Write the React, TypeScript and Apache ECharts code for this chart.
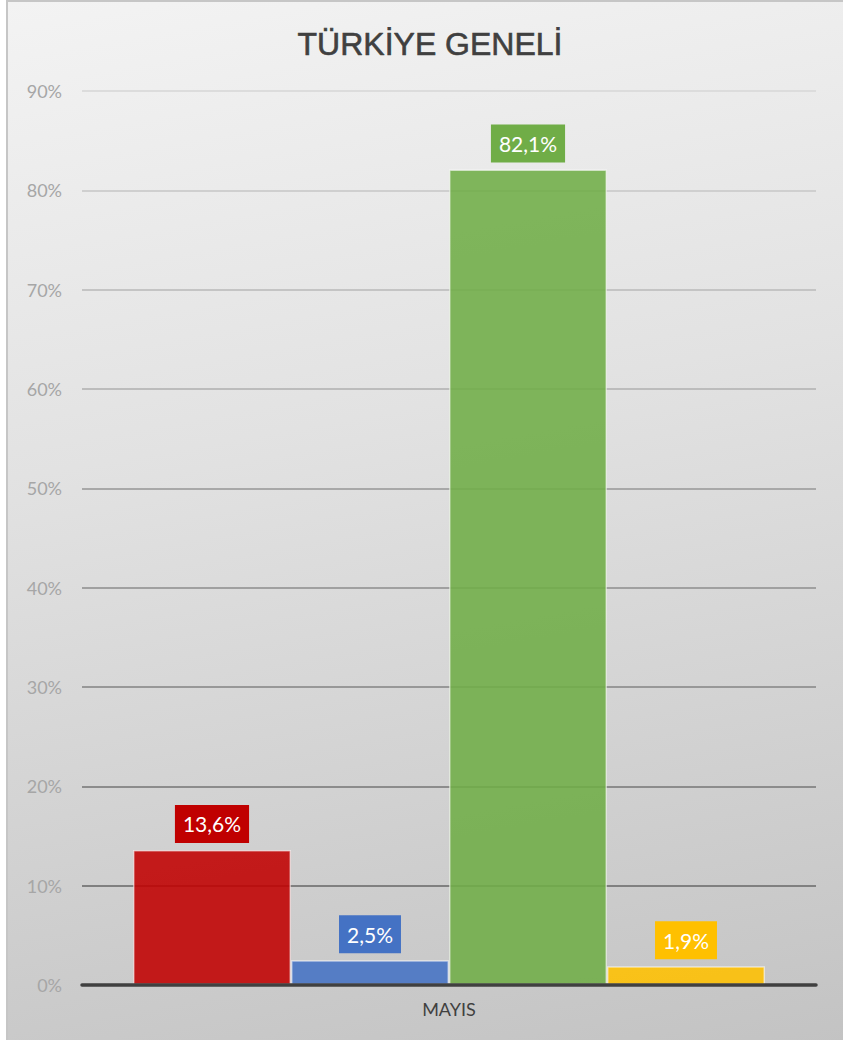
import React, { useEffect, useRef } from "react";
import * as echarts from "echarts";

const categories = ["MAYIS"];
const seriesNames = ["Seri 1", "Seri 2", "Seri 3", "Seri 4"];
const seriesValues = [13.6, 2.5, 82.1, 1.9];
const barColors = [
  "rgba(192,0,0,0.88)",
  "rgba(68,114,196,0.88)",
  "rgba(112,173,71,0.88)",
  "rgba(255,192,0,0.88)",
];
const labelColors = ["#c00000", "#4472c4", "#70ad47", "#ffc000"];
const gridColors = [
  "#808080",
  "#808080",
  "#8c8c8c",
  "#989898",
  "#a0a0a0",
  "#a8a8a8",
  "#bcbcbc",
  "#c4c4c4",
  "#cfcfcf",
  "#dcdcdc",
];

export default function App() {
  const ref = useRef<HTMLDivElement>(null);

  useEffect(() => {
    if (!ref.current) return;
    const chart = echarts.init(ref.current, undefined, { renderer: "svg" });
    const series = seriesValues.map((v, i) => ({
      name: seriesNames[i],
      type: "bar",
      data: [v],
      barWidth: 158,
      barGap: "0%",
      itemStyle: {
        color: barColors[i],
        borderColor: "rgba(255,255,255,0.55)",
        borderWidth: 1.5,
      },
      label: {
        show: true,
        position: "top",
        distance: 7,
        formatter: (p: any) => p.value.toFixed(1).replace(".", ",") + "%",
        color: "#ffffff",
        fontFamily: "Lato",
        fontSize: 21,
        lineHeight: 22,
        backgroundColor: labelColors[i],
        padding: [8, 8, 8, 8],
      },
    }));
    chart.setOption({
      animation: false,
      backgroundColor: "transparent",
      title: {
        text: "TÜRKİYE GENELİ",
        left: 425,
        top: 23,
        textAlign: "center",
        textStyle: {
          color: "#404040",
          fontFamily: "Liberation Sans",
          fontSize: 32,
          fontWeight: "normal",
          textBorderColor: "#404040",
          textBorderWidth: 0.6,
        },
      },
      grid: { left: 82, right: 27, top: 91, bottom: 55 },
      xAxis: {
        type: "category",
        data: categories,
        axisLine: { show: true, lineStyle: { color: "#404040", width: 3.5 } },
        axisTick: { show: false },
        axisLabel: {
          color: "#404040",
          fontFamily: "Lato",
          fontSize: 18,
          margin: 15,
        },
        z: 5,
      },
      yAxis: {
        type: "value",
        min: 0,
        max: 90,
        interval: 10,
        axisLine: { show: false },
        axisTick: { show: false },
        axisLabel: {
          formatter: "{value}%",
          color: "#a6a6a6",
          fontFamily: "Lato",
          fontSize: 18,
          margin: 20,
        },
        splitLine: { lineStyle: { color: gridColors, width: 1.8 } },
      },
      series,
    });
    return () => chart.dispose();
  }, []);

  return (
    <div
      style={{
        position: "fixed",
        left: 0,
        top: 0,
        width: 843,
        height: 1040,
        background: "#ffffff",
        overflow: "hidden",
      }}
    >
      <div
        style={{
          position: "absolute",
          left: 6,
          top: 0,
          width: 845,
          height: 1045,
          boxSizing: "border-box",
          borderTop: "2px solid #c6c6c6",
          borderLeft: "2px solid #c6c6c6",
          background: "linear-gradient(170deg, #f3f3f3 0%, #e2e2e2 40%, #c3c3c3 100%)",
        }}
      />
      <div
        ref={ref}
        style={{ position: "absolute", left: 0, top: 0, width: 843, height: 1040 }}
      />
    </div>
  );
}
